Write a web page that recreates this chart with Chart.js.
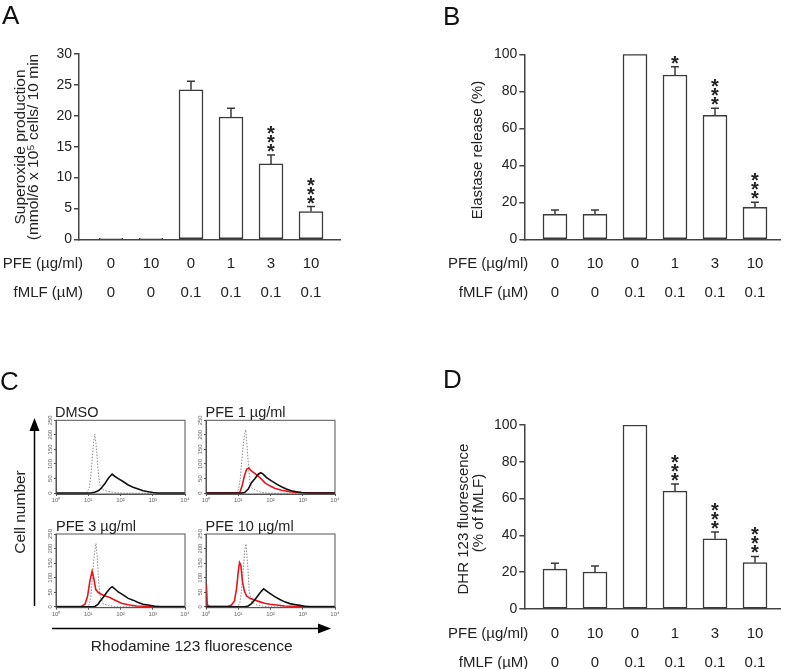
<!DOCTYPE html>
<html lang="en">
<head>
<meta charset="UTF-8">
<title>PFE neutrophil responses</title>
<script src="https://cdn.jsdelivr.net/npm/chart.js@4.4.0/dist/chart.umd.min.js"></script>
<style>
  body { margin: 0; background: #fff; }
  #fig { position: relative; width: 787px; height: 669px; overflow: hidden;
         font-family: "Liberation Sans", Arial, sans-serif; color: #222; }
  #fig canvas { position: absolute; }
  .t { position: absolute; white-space: nowrap; line-height: 1; }
  .r { transform: translate(-50%, -50%) rotate(-90deg); }
  .letter { font-size: 26px; color: #111; }
</style>
</head>
<body>
<div id="fig">
  <canvas id="chartA" style="left:0;top:0" width="393" height="330"></canvas>
  <canvas id="chartB" style="left:400px;top:0" width="387" height="330"></canvas>
  <canvas id="chartD" style="left:400px;top:330px" width="387" height="339"></canvas>
  <canvas id="histDmso" style="left:40px;top:412px" width="150" height="100"></canvas>
  <canvas id="hist1" style="left:190px;top:412px" width="150" height="100"></canvas>
  <canvas id="hist3" style="left:40px;top:525px" width="150" height="100"></canvas>
  <canvas id="hist10" style="left:190px;top:525px" width="150" height="100"></canvas>

  <svg style="position:absolute;left:0;top:0" width="787" height="669">
    <line x1="34.5" y1="606" x2="34.5" y2="428" stroke="#000" stroke-width="1.5"/>
    <polygon points="34.5,418 29.5,431 39.5,431" fill="#000"/>
    <line x1="52" y1="628.5" x2="320" y2="628.5" stroke="#000" stroke-width="1.5"/>
    <polygon points="331,628.5 318,623.5 318,633.5" fill="#000"/>
  </svg>

  <div class="t letter" style="left:2px;top:2px">A</div>
  <div class="t letter" style="left:443px;top:3px">B</div>
  <div class="t letter" style="left:0px;top:368px">C</div>
  <div class="t letter" style="left:443px;top:366px">D</div>

  <div class="t r" style="left:19.5px;top:147px;font-size:15.5px">Superoxide production</div>
  <div class="t r" style="left:33px;top:147px;font-size:15.5px">(mmol/6 x 10⁵ cells/ 10 min</div>
  <div class="t r" style="left:476px;top:150px;font-size:15px">Elastase release (%)</div>
  <div class="t r" style="left:462px;top:519px;font-size:15px">DHR 123 fluorescence</div>
  <div class="t r" style="left:477px;top:513px;font-size:15px">(% of fMLF)</div>

  <div class="t" style="left:55px;top:404.5px;font-size:14.5px">DMSO</div>
  <div class="t" style="left:205.5px;top:404.5px;font-size:14.5px">PFE 1 µg/ml</div>
  <div class="t" style="left:56px;top:519px;font-size:14.5px">PFE 3 µg/ml</div>
  <div class="t" style="left:205.5px;top:519px;font-size:14.5px">PFE 10 µg/ml</div>
  <div class="t r" style="left:20px;top:512px;font-size:15.5px">Cell number</div>
  <div class="t" style="left:191.7px;top:637.5px;font-size:15.5px;transform:translateX(-50%)">Rhodamine 123 fluorescence</div>
</div>

<script>
// ---- bar panels ----
const pfeDose  = ['0', '10', '0', '1', '3', '10'];
const fmlfDose = ['0', '0', '0.1', '0.1', '0.1', '0.1'];

const superoxide    = [0.15, 0.15, 24.2, 19.8, 12.2, 4.5];
const superoxideSem = [0, 0, 1.4, 1.4, 1.45, 0.8];
const superoxideSig = ['', '', '', '', '***', '***'];

const elastase    = [13.5, 13.5, 100, 88.8, 67.0, 17.3];
const elastaseSem = [2.3, 2.3, 0, 4.5, 3.8, 2.7];
const elastaseSig = ['', '', '', '*', '***', '***'];

const dhr    = [21.7, 20.1, 100, 64.1, 38.2, 25.2];
const dhrSem = [3.1, 3.3, 0, 3.8, 3.6, 3.4];
const dhrSig = ['', '', '', '***', '***', '***'];

// ---- flow cytometry histograms: [log10 decade, cell count] ----
const decadeTicks  = [0, 1, 2, 3, 4];
const decadeLabels = ['10⁰', '10¹', '10²', '10³', '10⁴'];
const countTicks   = [0, 50, 100, 150, 200, 250];

const dmsoRest = [[0,0],[0.9,0],[0.97,4],[1.03,18],[1.08,60],[1.12,115],[1.16,170],[1.2,203],[1.24,170],[1.28,115],[1.32,60],[1.37,25],[1.45,12],[1.55,8],[1.7,4],[1.9,1],[2.1,0],[4,0]];
const dmsoFmlf = [[0,0],[1.0,0],[1.1,1],[1.2,3],[1.31,8],[1.4,16],[1.46,25],[1.52,33],[1.57,42],[1.63,52],[1.67,57],[1.74,65],[1.82,58],[1.93,50],[2.08,40],[2.24,28],[2.39,20],[2.55,14],[2.7,8],[2.86,5],[3.01,2],[3.16,0],[4,0]];

const pfe1Rest = [[0,0],[0.92,0],[0.98,6],[1.02,19],[1.07,55],[1.1,99],[1.15,160],[1.2,205],[1.23,218],[1.26,180],[1.29,133],[1.33,80],[1.36,36],[1.42,18],[1.48,14],[1.57,8],[1.72,3],[1.93,0],[4,0]];
const pfe1Fmlf = [[0,0],[1.1,0],[1.2,2],[1.31,14],[1.41,36],[1.52,50],[1.62,65],[1.7,70],[1.77,65],[1.88,53],[2.03,42],[2.19,31],[2.34,22],[2.49,14],[2.65,8],[2.8,5],[2.96,2],[3.17,0],[4,0]];
const pfe1Drug = [[0,1],[1.0,1],[1.05,3],[1.12,25],[1.19,59],[1.26,82],[1.33,86],[1.41,76],[1.52,67],[1.62,58],[1.72,48],[1.82,36],[1.98,25],[2.13,17],[2.34,10],[2.55,6],[2.75,3],[3.06,1],[4,1]];

const pfe3Rest = [[0,0],[0.95,0],[1.02,5],[1.08,32],[1.12,85],[1.15,133],[1.2,190],[1.24,218],[1.28,170],[1.31,111],[1.34,65],[1.37,35],[1.46,11],[1.62,5],[1.82,1],[2.0,0],[4,0]];
const pfe3Fmlf = [[0,0],[1.15,0],[1.22,2],[1.3,8],[1.36,18],[1.46,32],[1.57,49],[1.67,63],[1.74,69],[1.82,62],[1.93,51],[2.08,41],[2.24,29],[2.39,23],[2.55,15],[2.7,9],[2.86,6],[3.06,2],[3.22,0],[4,0]];
const pfe3Drug = [[0,1],[0.7,1],[0.79,2],[0.9,9],[0.98,37],[1.05,88],[1.12,122],[1.18,94],[1.23,60],[1.31,49],[1.41,43],[1.52,37],[1.67,32],[1.77,26],[1.88,20],[2.03,12],[2.24,7],[2.49,3],[2.75,2],[3.06,1],[4,1]];

const pfe10Rest = [[0,0],[0.95,0],[1.0,3],[1.05,14],[1.1,54],[1.15,122],[1.2,195],[1.24,216],[1.27,175],[1.3,133],[1.34,54],[1.41,17],[1.52,8],[1.72,3],[1.93,0],[4,0]];
const pfe10Fmlf = [[0,0],[1.2,0],[1.31,3],[1.41,11],[1.52,25],[1.62,40],[1.72,54],[1.79,62],[1.86,56],[1.98,46],[2.13,35],[2.29,25],[2.44,17],[2.6,11],[2.75,8],[2.91,5],[3.06,2],[3.22,0],[4,0]];
const pfe10Drug = [[0,0],[0.01,80],[0.04,6],[0.1,3],[0.5,2],[0.7,3],[0.79,6],[0.88,19],[0.95,64],[1.0,121],[1.04,152],[1.08,144],[1.13,88],[1.19,54],[1.26,37],[1.36,29],[1.52,23],[1.67,17],[1.82,12],[1.98,9],[2.19,6],[2.44,3],[2.75,2],[3.1,1],[4,1]];

const FONT = '"Liberation Sans", Arial, sans-serif';
Chart.defaults.font.family = FONT;
Chart.defaults.color = '#222';

// error bars, significance stars and the dose rows under the x axis
const barExtras = {
  id: 'barExtras',
  afterDatasetsDraw(chart, args, opts) {
    const { ctx, scales: { x, y } } = chart;
    const vals = chart.data.datasets[0].data;
    ctx.save();
    ctx.strokeStyle = '#3a3a3a';
    ctx.lineWidth = 1.5;
    ctx.fillStyle = '#222';
    vals.forEach((p, i) => {
      const px = x.getPixelForValue(p.x);
      const e = opts.sem[i];
      const top = y.getPixelForValue(p.y + e);
      if (e > 0) {
        ctx.beginPath();
        ctx.moveTo(px, y.getPixelForValue(p.y));
        ctx.lineTo(px, top);
        ctx.moveTo(px - 4, top);
        ctx.lineTo(px + 4, top);
        ctx.stroke();
      }
      ctx.font = 'bold 20px ' + FONT;
      ctx.textAlign = 'center';
      ctx.textBaseline = 'alphabetic';
      for (let k = 0; k < opts.sig[i].length; k++) {
        const cy = top - 9 - k * 9;
        ctx.fillText('*', px, cy + 0.6 * 20);
      }
    });
    ctx.font = '15px ' + FONT;
    ctx.textBaseline = 'middle';
    const rows = [[opts.rowTitles[0], pfeDose], [opts.rowTitles[1], fmlfDose]];
    rows.forEach(([title, labels], r) => {
      const ry = y.bottom + (r === 0 ? 24.5 : 53.5);
      ctx.textAlign = 'center';
      labels.forEach((lab, i) => ctx.fillText(lab, x.getPixelForValue(i), ry));
      ctx.textAlign = 'right';
      ctx.fillText(title, x.left + 4, ry);
    });
    ctx.restore();
  }
};

function barPanel(id, vals, sem, sig, yMax, yStep, xMin, xMax, pad, yWidth) {
  new Chart(document.getElementById(id), {
    type: 'bar',
    data: {
      datasets: [{
        data: vals.map((v, i) => ({ x: i, y: v })),
        backgroundColor: '#fff',
        borderColor: '#3a3a3a',
        borderWidth: 1.5,
        borderSkipped: false,
        barThickness: 24
      }]
    },
    options: {
      responsive: false,
      animation: false,
      layout: { padding: pad },
      plugins: {
        legend: { display: false },
        tooltip: { enabled: false },
        barExtras: { sem, sig, rowTitles: ['PFE (µg/ml)', 'fMLF (µM)'] }
      },
      scales: {
        x: {
          type: 'linear', min: xMin, max: xMax, offset: false,
          afterBuildTicks: s => { s.ticks = pfeDose.map((d, i) => ({ value: i })); },
          ticks: { display: false },
          grid: { display: false },
          border: { color: '#444', width: 1.5 },
          afterFit: s => { s.height = 0; s.paddingLeft = 0; s.paddingRight = 0; }
        },
        y: {
          min: 0, max: yMax,
          ticks: { stepSize: yStep, font: { size: 14 }, color: '#222', padding: 2 },
          grid: { drawOnChartArea: false, tickLength: 5, color: '#444', lineWidth: 1.5 },
          border: { color: '#444', width: 1.5 },
          afterFit: s => { s.width = yWidth; s.paddingTop = 0; s.paddingBottom = 0; }
        }
      }
    },
    plugins: [barExtras]
  });
}

barPanel('chartA', superoxide, superoxideSem, superoxideSig, 30, 5, -0.8, 5.725,
  { left: 0, top: 54, right: 53, bottom: 90.7 }, 79);
barPanel('chartB', elastase, elastaseSem, elastaseSig, 100, 20, -0.7675, 5.625,
  { left: 0, top: 54.3, right: 7, bottom: 90.7 }, 124.3);
barPanel('chartD', dhr, dhrSem, dhrSig, 100, 20, -0.7675, 5.625,
  { left: 0, top: 95, right: 7, bottom: 60 }, 124.3);

// box around each histogram and rotated count labels
const histFrame = {
  id: 'histFrame',
  afterDraw(chart) {
    const { ctx, chartArea: a, scales: { y } } = chart;
    ctx.save();
    ctx.strokeStyle = '#555';
    ctx.lineWidth = 1;
    ctx.strokeRect(a.left, a.top, a.right - a.left, a.bottom - a.top);
    ctx.fillStyle = '#666';
    ctx.font = '6px ' + FONT;
    ctx.textAlign = 'center';
    ctx.textBaseline = 'middle';
    countTicks.forEach(v => {
      ctx.save();
      ctx.translate(a.left - 6, y.getPixelForValue(v));
      ctx.rotate(-Math.PI / 2);
      ctx.fillText(String(v), 0, 0);
      ctx.restore();
    });
    ctx.restore();
  }
};

function histPanel(id, curves, pad, xHeight) {
  new Chart(document.getElementById(id), {
    type: 'scatter',
    data: {
      datasets: curves.map(c => ({
        data: c.pts.map(p => ({ x: p[0], y: p[1] })),
        showLine: true,
        pointRadius: 0,
        borderColor: c.color,
        borderWidth: c.w,
        borderDash: c.dash || [],
        tension: 0
      }))
    },
    options: {
      responsive: false,
      animation: false,
      layout: { padding: pad },
      plugins: { legend: { display: false }, tooltip: { enabled: false } },
      scales: {
        x: {
          type: 'linear', min: 0, max: 4,
          afterBuildTicks: s => { s.ticks = decadeTicks.map(v => ({ value: v })); },
          ticks: { font: { size: 6 }, color: '#666', padding: 1, maxRotation: 0,
                   callback: v => decadeLabels[v] },
          grid: { drawOnChartArea: false, tickLength: 2, color: '#555' },
          border: { color: '#555', width: 1 },
          afterFit: s => { s.height = xHeight; s.paddingLeft = 0; s.paddingRight = 0; }
        },
        y: {
          min: -3, max: 250,
          afterBuildTicks: s => { s.ticks = countTicks.map(v => ({ value: v })); },
          ticks: { display: false },
          grid: { drawOnChartArea: false, tickLength: 2, color: '#555' },
          border: { color: '#555', width: 1 },
          afterFit: s => { s.width = 16; s.paddingTop = 0; s.paddingBottom = 0; }
        }
      }
    },
    plugins: [histFrame]
  });
}

const rest = pts => ({ pts, color: '#8a8a8a', w: 1, dash: [1.5, 1.5] });
const fmlf = pts => ({ pts, color: '#111', w: 1.6 });
const drug = pts => ({ pts, color: '#e8141c', w: 1.6 });

histPanel('histDmso', [fmlf(dmsoFmlf), rest(dmsoRest)], { left: 0, top: 8.3, right: 5, bottom: 0 }, 18);
histPanel('hist1', [fmlf(pfe1Fmlf), drug(pfe1Drug), rest(pfe1Rest)], { left: 0, top: 8.3, right: 5, bottom: 0 }, 18);
histPanel('hist3', [fmlf(pfe3Fmlf), drug(pfe3Drug), rest(pfe3Rest)], { left: 0, top: 9, right: 5, bottom: 0 }, 17.3);
histPanel('hist10', [fmlf(pfe10Fmlf), drug(pfe10Drug), rest(pfe10Rest)], { left: 0, top: 9, right: 5, bottom: 0 }, 17.3);
</script>
</body>
</html>
